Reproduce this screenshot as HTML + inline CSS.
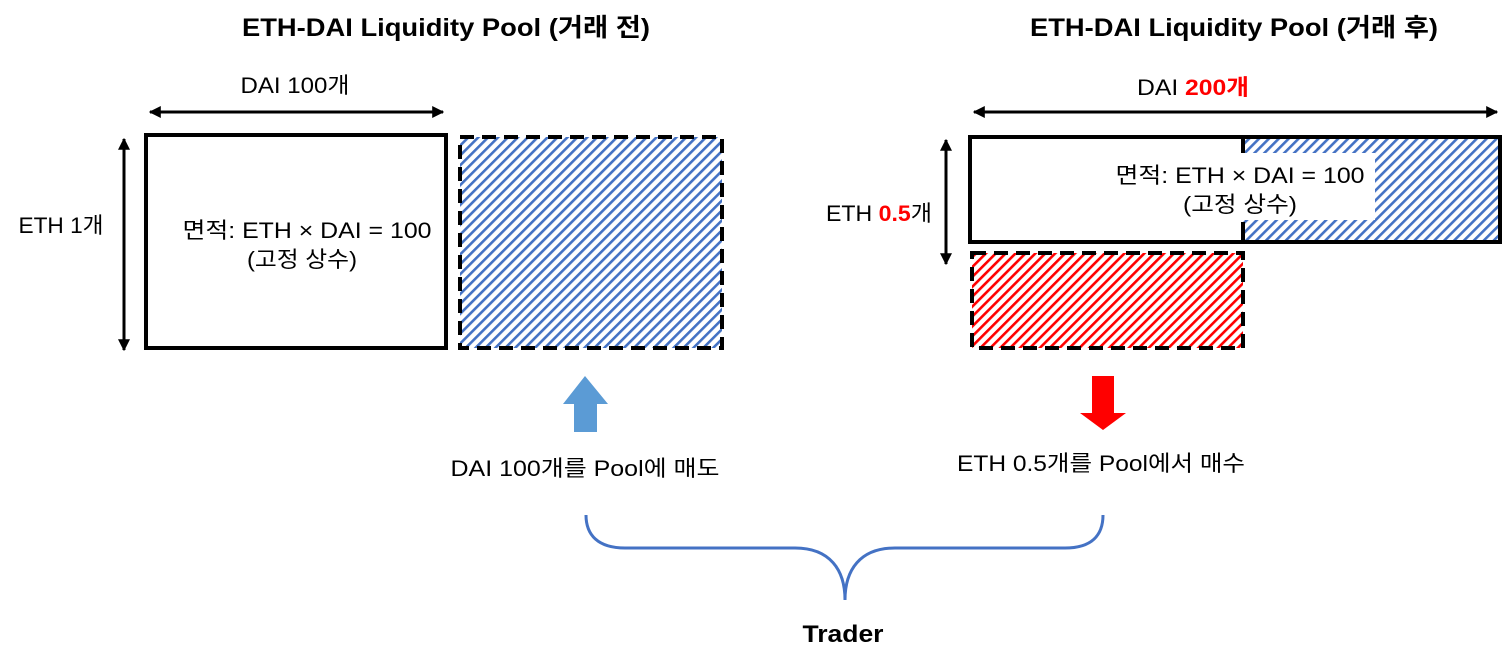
<!DOCTYPE html>
<html><head><meta charset="utf-8"><style>
html,body{margin:0;padding:0;background:#fff;}
svg{display:block;}
text{font-family:"Liberation Sans","Noto Sans CJK KR",sans-serif;}
</style></head><body>
<svg width="1508" height="665" viewBox="0 0 1508 665" xmlns="http://www.w3.org/2000/svg">
<defs>
<pattern id="hb" patternUnits="userSpaceOnUse" width="7" height="7" patternTransform="rotate(45)">
<rect width="7" height="7" fill="#fff"/><rect x="0" y="0" width="2.6" height="7" fill="#4472c4"/></pattern>
<pattern id="hr" patternUnits="userSpaceOnUse" width="7" height="7" patternTransform="rotate(45)">
<rect width="7" height="7" fill="#fff"/><rect x="0" y="0" width="2.6" height="7" fill="#ff0000"/></pattern>
<marker id="ah" viewBox="0 0 10 10" refX="9" refY="5" markerWidth="4" markerHeight="4" orient="auto-start-reverse">
<path d="M0,0 L10,5 L0,10 z" fill="#000"/></marker>
</defs>

<text x="446" y="36" font-size="25" font-weight="bold" text-anchor="middle" textLength="408" lengthAdjust="spacingAndGlyphs">ETH-DAI Liquidity Pool (거래 전)</text>
<text x="1234" y="36" font-size="25" font-weight="bold" text-anchor="middle" textLength="408" lengthAdjust="spacingAndGlyphs">ETH-DAI Liquidity Pool (거래 후)</text>

<text x="295" y="93" font-size="22" text-anchor="middle" textLength="109" lengthAdjust="spacingAndGlyphs">DAI 100개</text>
<line x1="150" y1="112" x2="443" y2="112" stroke="#000" stroke-width="3" marker-start="url(#ah)" marker-end="url(#ah)"/>
<line x1="124" y1="139" x2="124" y2="350" stroke="#000" stroke-width="3" marker-start="url(#ah)" marker-end="url(#ah)"/>
<text x="61" y="233" font-size="22" text-anchor="middle" textLength="85" lengthAdjust="spacingAndGlyphs">ETH 1개</text>
<rect x="146" y="135" width="300" height="213" fill="#fff" stroke="#000" stroke-width="4"/>
<text x="307" y="238" font-size="22" text-anchor="middle" textLength="249" lengthAdjust="spacingAndGlyphs">면적: ETH × DAI = 100</text>
<text x="302" y="267" font-size="22" text-anchor="middle" textLength="110" lengthAdjust="spacingAndGlyphs">(고정 상수)</text>
<rect x="460" y="137" width="262" height="211" fill="url(#hb)" stroke="#000" stroke-width="4" stroke-dasharray="14,8"/>

<text x="1193" y="95" font-size="22" text-anchor="middle" textLength="112" lengthAdjust="spacingAndGlyphs">DAI <tspan fill="#ff0000" font-weight="bold">200개</tspan></text>
<line x1="974" y1="112" x2="1497" y2="112" stroke="#000" stroke-width="3" marker-start="url(#ah)" marker-end="url(#ah)"/>
<line x1="946" y1="140" x2="946" y2="264" stroke="#000" stroke-width="3" marker-start="url(#ah)" marker-end="url(#ah)"/>
<text x="879" y="221" font-size="22" text-anchor="middle" textLength="106" lengthAdjust="spacingAndGlyphs">ETH <tspan fill="#ff0000" font-weight="bold">0.5</tspan>개</text>
<rect x="1243" y="137" width="257" height="105" fill="url(#hb)"/>
<rect x="970" y="137" width="273" height="105" fill="#fff"/>
<rect x="1243" y="153" width="132" height="67" fill="#fff"/>
<rect x="970" y="137" width="530" height="105" fill="none" stroke="#000" stroke-width="4"/>
<line x1="1243" y1="137" x2="1243" y2="153" stroke="#000" stroke-width="4"/>
<line x1="1243" y1="222" x2="1243" y2="242" stroke="#000" stroke-width="4"/>
<text x="1240" y="183" font-size="22" text-anchor="middle" textLength="249" lengthAdjust="spacingAndGlyphs">면적: ETH × DAI = 100</text>
<text x="1240" y="212" font-size="22" text-anchor="middle" textLength="114" lengthAdjust="spacingAndGlyphs">(고정 상수)</text>
<rect x="972" y="253" width="271" height="95" fill="url(#hr)" stroke="#000" stroke-width="4" stroke-dasharray="14,8"/>

<polygon points="585,376 608,404 597,404 597,432 574,432 574,404 563,404" fill="#5b9bd5"/>
<polygon points="1092,376 1114,376 1114,413 1126,413 1103,430 1080,413 1092,413" fill="#ff0000"/>

<text x="585" y="476" font-size="22" text-anchor="middle" textLength="269" lengthAdjust="spacingAndGlyphs">DAI 100개를 Pool에 매도</text>
<text x="1101" y="471" font-size="22" text-anchor="middle" textLength="288" lengthAdjust="spacingAndGlyphs">ETH 0.5개를 Pool에서 매수</text>

<path d="M586,515 C586,535 598,548 625,548 L795,548 C830,548 845,570 845,600 C845,570 860,548 895,548 L1065,548 C1092,548 1103,535 1103,515" fill="none" stroke="#4472c4" stroke-width="3"/>

<text x="843" y="642" font-size="24" font-weight="bold" text-anchor="middle" textLength="81" lengthAdjust="spacingAndGlyphs">Trader</text>
</svg>
</body></html>
